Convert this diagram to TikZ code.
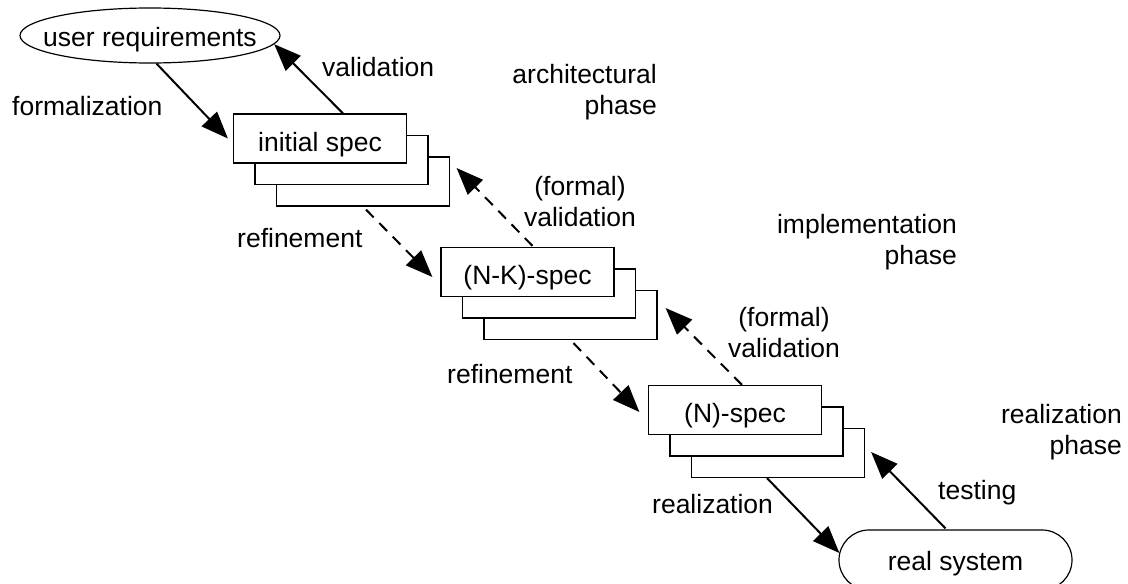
\documentclass[tikz,border=0pt]{standalone}
\usepackage{fontspec}
\setmainfont{Liberation Sans}
\usetikzlibrary{arrows.meta,shapes.geometric,calc}

\begin{document}
\begin{tikzpicture}[x=1pt,y=-1pt,
  every node/.style={font=\fontsize{26.5pt}{31pt}\selectfont},
  spec/.style={draw, line width=1.2pt, fill=white, minimum width=173pt,
    minimum height=49pt, inner sep=0pt, text height=25pt, text depth=0pt},
  flow/.style={line width=2pt, -{Triangle[length=27pt,width=21pt]}},
  dflow/.style={flow, dash pattern=on 11pt off 8pt},
  lbl/.style={inner sep=0pt},
]
\useasboundingbox (0,0) rectangle (1128,584);

% start and end of the chain
\node[draw, ellipse, line width=1.2pt, minimum width=260pt, minimum height=55pt,
  inner sep=0pt, text height=21pt, text depth=0pt] (ur) at (150,35.5)
  {\makebox[0pt]{user requirements}};
\node[draw, line width=1.2pt, rounded corners=30pt, minimum width=233pt,
  minimum height=60pt, inner sep=0pt, text height=20pt, text depth=0pt]
  (rs) at (955.5,560) {real system};

% stacked specification sheets, back to front
\node[spec] (init3) at (363,181.5) {};
\node[spec] (init2) at (341.5,160) {};
\node[spec] (init)  at (320,138.5) {initial spec};

\node[spec] (nk3) at (570.5,315) {};
\node[spec] (nk2) at (549,293.5) {};
\node[spec] (nk)  at (527.5,272) {(N-K)-spec};

\node[spec] (n3) at (778,453) {};
\node[spec] (n2) at (756.5,431.5) {};
\node[spec] (n)  at (735,410) {(N)-spec};

% transitions
\draw[flow]  (ur.-77) -- ($(init.west)+(-5,0)$);
\draw[flow]  ($(init.north)+(23,0)$) -- (ur.-4);
\draw[dflow] ($(init3.south)+(3,3)$) -- ($(nk.west)+(-8,5)$);
\draw[dflow] ($(nk.north)+(5,-1)$) -- ($(init3.east)+(6.5,-13.5)$);
\draw[dflow] ($(nk3.south)+(3,3)$) -- ($(n.west)+(-8.5,2)$);
\draw[dflow] ($(n.north)+(7,0)$) -- ($(nk3.east)+(8,-7)$);
\draw[flow]  ($(n3.south)+(-11,0)$) -- ($(rs.west)+(1,-7)$);
\draw[flow]  ($(rs.north)+(-10,-1)$) -- ($(n3.east)+(6,-1)$);

% labels (multi-line labels are placed by the baseline of their last line)
\node[lbl, anchor=base west] (lformal) at (12,115) {formalization};
\node[lbl, anchor=base west] (lval) at (322,76) {validation};
\node[lbl, anchor=base east, align=right] (larch) at (657,114) {architectural\\phase};
\node[lbl, anchor=base, align=center] (lfv1) at (580,226) {(formal)\\validation};
\node[lbl, anchor=base west] (lref1) at (237,247) {refinement};
\node[lbl, anchor=base east, align=right] (limpl) at (957,264) {implementation\\phase};
\node[lbl, anchor=base, align=center] (lfv2) at (784,357) {(formal)\\validation};
\node[lbl, anchor=base west] (lref2) at (447,383) {refinement};
\node[lbl, anchor=base east, align=right] (lreal) at (1122,454) {realization\\phase};
\node[lbl, anchor=base west] (lrealz) at (652,513) {realization};
\node[lbl, anchor=base west] (ltest) at (938,499) {testing};
\end{tikzpicture}
\end{document}
